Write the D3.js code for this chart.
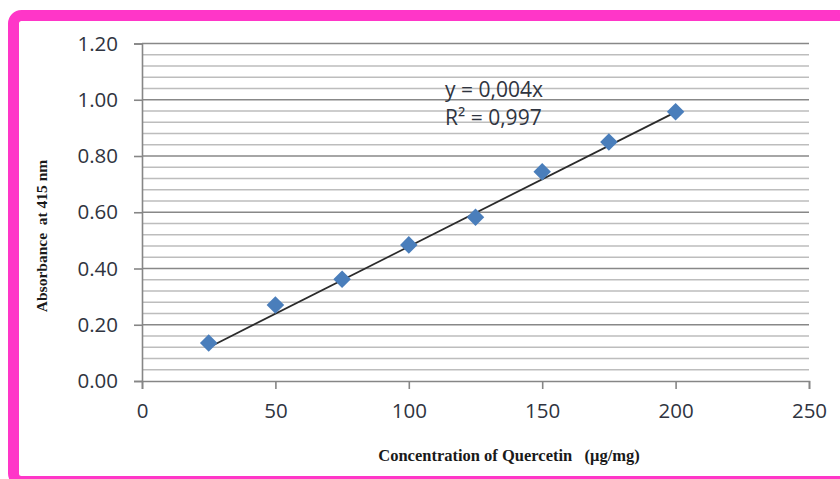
<!DOCTYPE html>
<html><head><meta charset="utf-8">
<script src="https://cdn.jsdelivr.net/npm/d3@7/dist/d3.min.js"></script>
<style>
html,body{margin:0;padding:0;background:#fff;}
svg{display:block;}
</style></head>
<body>
<svg id="chart" width="840" height="479"></svg>
<script>
const concentrations = [25, 50, 75, 100, 125, 150, 175, 200];
const absorbances = [0.135, 0.27, 0.362, 0.484, 0.582, 0.744, 0.85, 0.957];
const xTicks = [0, 50, 100, 150, 200, 250];
const yTicks = [0, 0.2, 0.4, 0.6, 0.8, 1.0, 1.2];
const yMinorStep = 0.04;
const trendSlope = 0.00478;
const trendRange = [25, 200];
const equationLines = ["y = 0,004x", "R² = 0,997"];
const xTitle = "Concentration of Quercetin   (μg/mg)";
const yTitle = "Absorbance  at 415 nm";

const svg = d3.select("#chart");
// magenta frame
svg.append("rect").attr("x", 13.5).attr("y", 15.5).attr("width", 900).attr("height", 466)
  .attr("rx", 8).attr("fill", "#fff").attr("stroke", "#ff36c8").attr("stroke-width", 11);

const x = d3.scaleLinear().domain([0, 250]).range([142, 809]);
const y = d3.scaleLinear().domain([0, 1.2]).range([381, 43.5]);

// minor grid
const minor = d3.range(0, 1.2 + 1e-9, yMinorStep).filter(v => Math.abs(v/0.2 - Math.round(v/0.2)) > 1e-6);
svg.append("g").selectAll("line").data(minor).join("line")
  .attr("x1", x(0)).attr("x2", x(250)).attr("y1", d => y(d)).attr("y2", d => y(d))
  .attr("stroke", "#bdbdbd").attr("stroke-width", 1.5);
// major grid
svg.append("g").selectAll("line").data(yTicks.filter(v => v > 0)).join("line")
  .attr("x1", x(0)).attr("x2", x(250)).attr("y1", d => y(d)).attr("y2", d => y(d))
  .attr("stroke", "#888888").attr("stroke-width", 1.6);

const tickFont = "'Open Sans', sans-serif";
const textColor = "#2f3440";
// y axis
const yAxis = svg.append("g").attr("transform", `translate(${x(0)},0)`)
  .call(d3.axisLeft(y).tickValues(yTicks).tickFormat(d3.format(".2f")).tickSize(8).tickPadding(16));
yAxis.select(".domain").attr("stroke", "#868686").attr("stroke-width", 1.6);
yAxis.selectAll(".tick line").attr("stroke", "#868686").attr("stroke-width", 1.6);
yAxis.selectAll("text").attr("font-family", tickFont).attr("font-size", 20.5).attr("fill", textColor);

// x axis
const xAxis = svg.append("g").attr("transform", `translate(0,${y(0)})`)
  .call(d3.axisBottom(x).tickValues(xTicks).tickFormat(d3.format("d")).tickSize(8).tickPadding(14));
xAxis.select(".domain").attr("stroke", "#868686").attr("stroke-width", 1.6);
xAxis.selectAll(".tick line").attr("stroke", "#868686").attr("stroke-width", 1.6);
xAxis.selectAll("text").attr("font-family", tickFont).attr("font-size", 20.5).attr("fill", textColor);

// trendline
svg.append("line")
  .attr("x1", x(trendRange[0])).attr("y1", y(trendSlope * trendRange[0]))
  .attr("x2", x(trendRange[1])).attr("y2", y(trendSlope * trendRange[1]))
  .attr("stroke", "#2b2b2b").attr("stroke-width", 1.7);

// markers
svg.append("g").selectAll("path").data(concentrations).join("path")
  .attr("transform", (d, i) => `translate(${x(d)},${y(absorbances[i])}) rotate(45)`)
  .attr("d", "M-6.2,-6.2H6.2V6.2H-6.2Z")
  .attr("fill", "#4a7ebb");

// equation
svg.append("g").selectAll("text").data(equationLines).join("text")
  .attr("x", 445).attr("y", (d, i) => 97 + i * 28)
  .attr("font-family", tickFont).attr("font-size", 21).attr("fill", textColor)
  .text(d => d);

// axis titles
svg.append("text").attr("x", 509).attr("y", 461).attr("text-anchor", "middle")
  .attr("font-family", "'Liberation Serif', 'Times New Roman', serif").attr("font-weight", "bold")
  .attr("font-size", 16.5).attr("fill", "#1a1a1a")
  .style("white-space", "pre").text(xTitle);
svg.append("text").attr("transform", "translate(47,236) rotate(-90)").attr("text-anchor", "middle")
  .attr("font-family", "'Liberation Serif', 'Times New Roman', serif").attr("font-weight", "bold")
  .attr("font-size", 15.5).attr("fill", "#1a1a1a")
  .style("white-space", "pre").text(yTitle);
</script>
</body></html>
